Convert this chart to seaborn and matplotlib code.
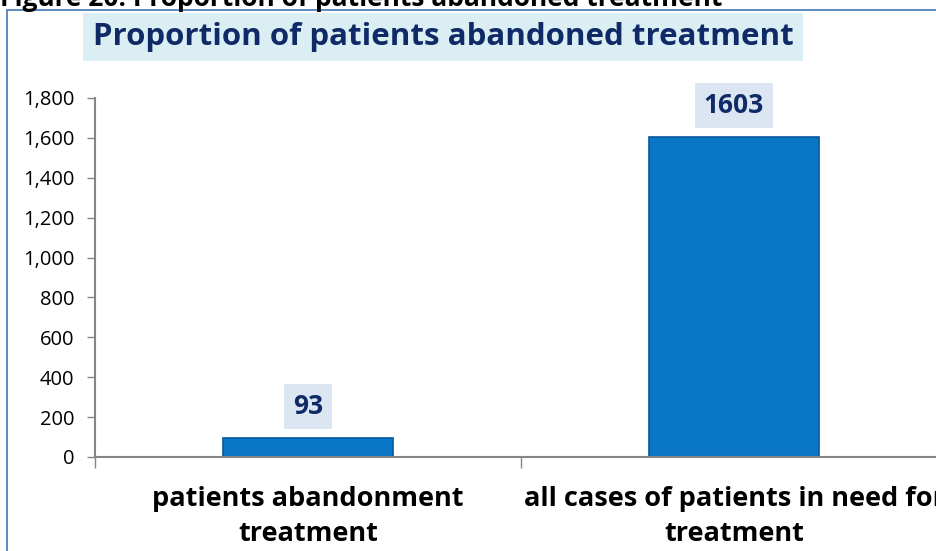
import matplotlib
matplotlib.use("Agg")
import matplotlib.pyplot as plt
import matplotlib.ticker as mticker
from matplotlib.patches import Rectangle
import seaborn as sns

# datos
categories = ["patients abandonment\ntreatment", "all cases of patients in need for\ntreatment"]
values = [93, 1603]
value_labels = ["93", "1603"]
yticks = [0, 200, 400, 600, 800, 1000, 1200, 1400, 1600, 1800]

title = "Proportion of patients abandoned treatment"
caption = "Figure 20: Proportion of patients abandoned treatment"

sns.set_theme(style="white")
plt.rcParams['font.family'] = ['Open Sans', 'DejaVu Sans']

fig = plt.figure(figsize=(9.37, 5.51), dpi=100)
ax = fig.add_axes([95 / 937, 94 / 551, 852 / 937, 359 / 551])

sns.barplot(x=categories, y=values, ax=ax, width=0.4, color="#0A76C8",
            saturation=1, edgecolor="#06589A", linewidth=1.2)

ax.set_xlim(-0.5, 1.5)
ax.set_ylim(0, 1800)
ax.set_yticks(yticks)
ax.yaxis.set_major_formatter(mticker.FuncFormatter(lambda v, p: f"{v:,.0f}"))
ax.tick_params(axis="y", labelsize=14.5, length=6, width=1, color="#868686",
               direction="out", pad=9, left=True, labelcolor="black")
ax.set_xticks([0, 1])
ax.set_xticklabels(categories, fontsize=19.5, fontweight="bold", color="black",
                   linespacing=1.45)
ax.tick_params(axis="x", length=0, pad=21)
ax.set_xticks([-0.5, 0.5, 1.5], minor=True)
ax.tick_params(axis="x", which="minor", length=8, width=1, color="#868686",
               direction="out", bottom=True)

for s in ["top", "right"]:
    ax.spines[s].set_visible(False)
for s in ["left", "bottom"]:
    ax.spines[s].set_color("#868686")
    ax.spines[s].set_linewidth(1.5)
ax.set_xlabel("")
ax.set_ylabel("")

# etiquetas de valor
for i, (v, lab) in enumerate(zip(values, value_labels)):
    ax.annotate(lab, (i, v), xytext=(0, 23), textcoords="offset points",
                ha="center", va="center", fontsize=19, fontweight="bold",
                color="#0F2A66",
                bbox=dict(boxstyle="square,pad=0.35", fc="#DCE6F2", ec="none"))

# titulo
fig.text(443 / 937, 1 - 37 / 551, title, ha="center", va="center",
         fontsize=22.5, fontweight="bold", color="#0F2A66",
         bbox=dict(boxstyle="square,pad=0.3", fc="#DAEEF3", ec="none"))

# marco y leyenda cortada arriba
fig.patches.append(Rectangle((7 / 937, -0.1), 2, 1.1 - 10 / 551,
                             transform=fig.transFigure, fill=False,
                             ec="#4F81BD", lw=1.3, zorder=0))
fig.text(0.0, 1 - 6 / 551, caption, ha="left", va="baseline",
         fontsize=19, fontweight="bold", color="black")

plt.savefig("out.png", dpi=100)
